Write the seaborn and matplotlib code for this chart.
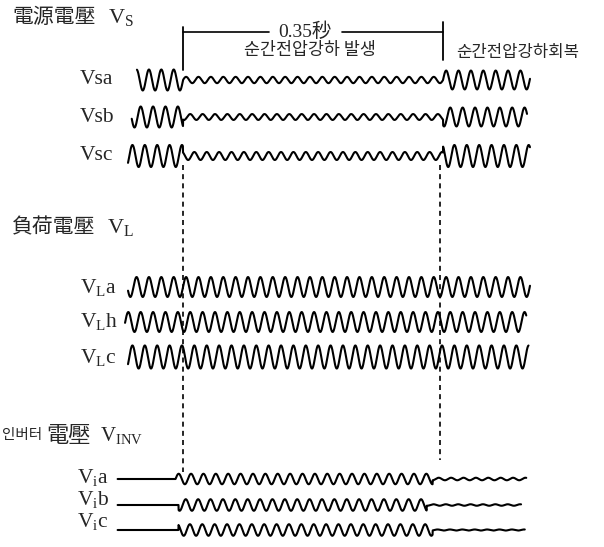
import numpy as np
import pandas as pd
import matplotlib
matplotlib.use("Agg")
import matplotlib.pyplot as plt
import seaborn as sns

sns.set_theme(style="white")
plt.rcParams["font.family"] = ["Liberation Serif", "Noto Sans CJK KR", "DejaVu Sans"]
plt.rcParams["mathtext.fontset"] = "custom"
plt.rcParams["mathtext.rm"] = "Liberation Serif"
plt.rcParams["mathtext.it"] = "Liberation Serif:italic"

# ---------------- data ----------------
FREQ_HZ = 60
SAG_START = 0.0          # s
SAG_DURATION = 0.35      # s
duration_label = "0.35秒"
sag_text = "순간전압강하 발생"
recover_text = "순간전압강하회복"

group_titles = ["電源電壓", "負荷電壓", "인버터電壓"]
group_symbols = ["V$_\\mathrm{S}$", "V$_\\mathrm{L}$", "V$_\\mathrm{INV}$"]

phase_deg = [0, -120, 120]

source_labels = ["Vsa", "Vsb", "Vsc"]
source_pre_amp = [1.00, 1.00, 1.05]
source_sag_amp = [0.30, 0.28, 0.38]
source_post_amp = [0.90, 0.90, 1.05]
source_t_start = [-0.062, -0.069, -0.074]
source_t_end = [0.467, 0.463, 0.467]

load_labels = ["V$_\\mathrm{L}$a", "V$_\\mathrm{L}$h", "V$_\\mathrm{L}$c"]
load_amp = [0.95, 0.95, 1.10]
load_t_start = [-0.074, -0.078, -0.074]
load_t_end = [0.467, 0.462, 0.465]

inverter_labels = ["V$_\\mathrm{i}$a", "V$_\\mathrm{i}$b", "V$_\\mathrm{i}$c"]
inverter_on = [-0.010, -0.006, -0.006]
inverter_off = [0.336, 0.328, 0.336]
inverter_sag_amp = [0.50, 0.55, 0.55]
inverter_post_amp = [0.12, 0.07, 0.05]
inverter_t_start = [-0.088, -0.088, -0.088]
inverter_t_end = [0.462, 0.455, 0.460]

# ---------------- layout ----------------
W, H = 604, 547
X0_PX = 183            # pixel of t = 0
PX_PER_S = 743
PX_PER_PU = 10.5
source_rows = [80, 117, 156]
load_rows = [287, 322, 357]
inverter_rows = [479, 505, 530]
inverter_label_rows = [478, 500, 522]
title_rows = [17, 227, 435]


def px2t(x):
    return (x - X0_PX) / PX_PER_S


fig = plt.figure(figsize=(W / 100, H / 100), dpi=100)
ax = fig.add_axes([0, 0, 1, 1])
ax.set_xlim(px2t(0), px2t(W))
ax.set_ylim(H, 0)
ax.axis("off")

LW = 1.5


def draw(t, v, row):
    df = pd.DataFrame({"t": t, "y": row - PX_PER_PU * v})
    sns.lineplot(data=df, x="t", y="y", ax=ax, color="black", lw=LW,
                 estimator=None, sort=False, legend=False)


sag_end = SAG_START + SAG_DURATION

# source voltages
for i in range(3):
    t = np.linspace(source_t_start[i], source_t_end[i], 2500)
    amp = np.where(t < SAG_START, source_pre_amp[i],
                   np.where(t < sag_end, source_sag_amp[i], source_post_amp[i]))
    v = amp * np.sin(2 * np.pi * FREQ_HZ * t + np.deg2rad(phase_deg[i]))
    draw(t, v, source_rows[i])

# load voltages
for i in range(3):
    t = np.linspace(load_t_start[i], load_t_end[i], 2500)
    v = load_amp[i] * np.sin(2 * np.pi * FREQ_HZ * t + np.deg2rad(phase_deg[i]))
    draw(t, v, load_rows[i])

# inverter voltages
for i in range(3):
    t = np.linspace(inverter_t_start[i], inverter_t_end[i], 2500)
    amp = np.where(t < inverter_on[i], 0.0,
                   np.where(t < inverter_off[i], inverter_sag_amp[i], inverter_post_amp[i]))
    v = amp * np.sin(2 * np.pi * FREQ_HZ * (t - inverter_on[i]) + np.deg2rad(phase_deg[i]))
    draw(t, v, inverter_rows[i])

# dashed markers of sag start / end
ax.plot([SAG_START, SAG_START], [165, 472], color="black", lw=1.2,
        ls=(0, (3, 2.5)), zorder=0)
ax.plot([sag_end - 0.004, sag_end - 0.004], [165, 460], color="black", lw=1.2,
        ls=(0, (3, 2.5)), zorder=0)

# duration bracket
ax.plot([SAG_START, SAG_START], [27, 70], color="black", lw=1.3)
ax.plot([sag_end, sag_end], [22, 60], color="black", lw=1.3)
ax.plot([SAG_START, px2t(269)], [32, 32], color="black", lw=1.2)
ax.plot([px2t(342), sag_end], [32, 32], color="black", lw=1.2)
ax.text(px2t(305), 32, duration_label, ha="center", va="center", fontsize=14,
        family=["Liberation Serif", "Noto Sans CJK JP"])
ax.text(px2t(310), 50, sag_text, ha="center", va="center", fontsize=12.5,
        family=["Noto Sans CJK KR"])
ax.text(px2t(456), 53, recover_text, ha="left", va="center", fontsize=12,
        family=["Noto Sans CJK KR"])

# group titles
ax.text(px2t(12), title_rows[0], group_titles[0], ha="left", va="center",
        fontsize=15, family=["Noto Sans CJK KR"])
ax.text(px2t(108), title_rows[0] + 1, group_symbols[0], ha="left", va="center",
        fontsize=16)
ax.text(px2t(12), title_rows[1], group_titles[1], ha="left", va="center",
        fontsize=15, family=["Noto Sans CJK KR"])
ax.text(px2t(107), title_rows[1] + 1, group_symbols[1], ha="left", va="center",
        fontsize=16)
ax.text(px2t(2), title_rows[2], group_titles[2][:3], ha="left", va="center",
        fontsize=10.5, family=["Noto Sans CJK KR"])
ax.text(px2t(46), title_rows[2], group_titles[2][3:], ha="left", va="center",
        fontsize=16, family=["Noto Sans CJK KR"])
ax.text(px2t(100), title_rows[2] + 1, group_symbols[2], ha="left", va="center",
        fontsize=15)

# row labels
for i in range(3):
    ax.text(px2t(80), source_rows[i], source_labels[i], ha="left", va="center", fontsize=15.5)
    ax.text(px2t(80), load_rows[i], load_labels[i], ha="left", va="center", fontsize=15.5)
    ax.text(px2t(77), inverter_label_rows[i], inverter_labels[i], ha="left", va="center",
            fontsize=15.5)

fig.savefig("out.png", dpi=100, facecolor="white")
